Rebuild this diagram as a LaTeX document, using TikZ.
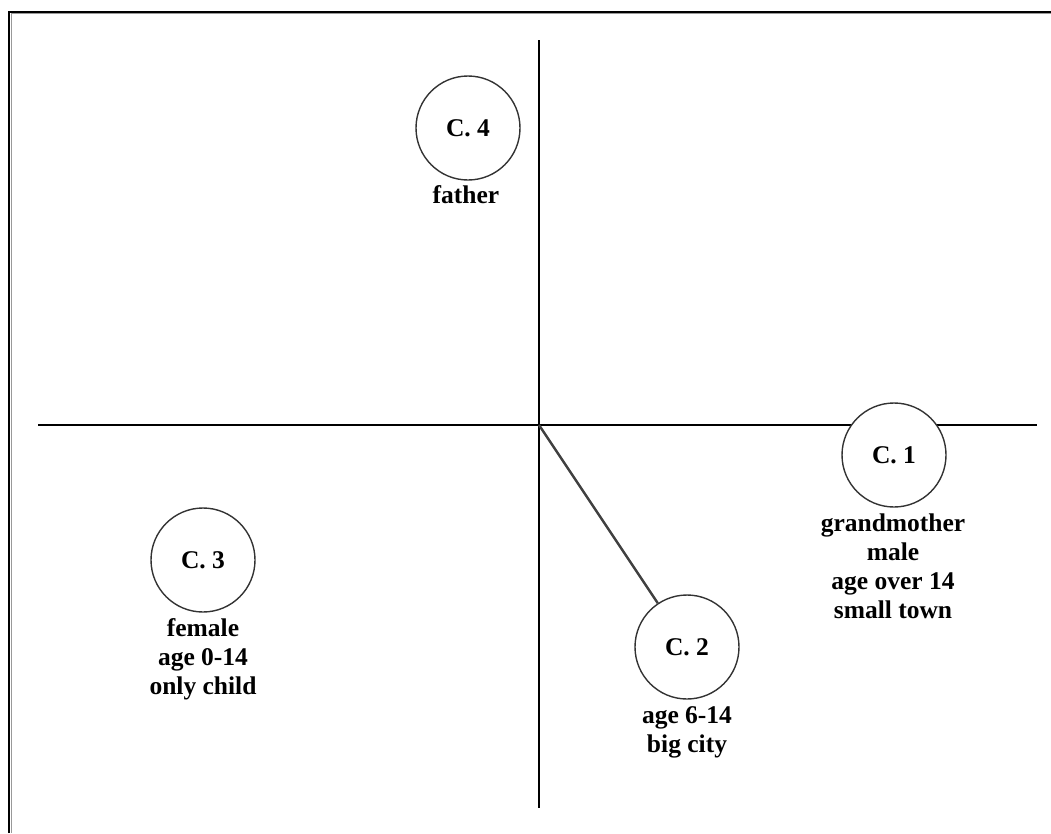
\documentclass[tikz,border=0pt]{standalone}
\usepackage{fontspec}
\setmainfont{Liberation Serif}
\begin{document}
\begin{tikzpicture}[x=1pt,y=-1pt,
  axis/.style={line width=2.6pt,black},
  cl/.style={circle,draw=black!80,line width=1.4pt,fill=white,minimum size=104pt,inner sep=0pt,font=\fontsize{25.5}{29}\selectfont\bfseries},
  lbl/.style={align=center,inner sep=0pt,font=\fontsize{25.5}{29}\selectfont\bfseries}]
\useasboundingbox (0,0) rectangle (1051,833);
% frame
\draw[line width=2pt,black] (9,833) -- (9,11.5) -- (1051,11.5);
\draw[line width=1pt,black!40] (11.5,833) -- (11.5,13.5) -- (1051,13.5);
% axes
\coordinate (xl) at (38,425);
\coordinate (xr) at (1037,425);
\coordinate (yt) at (539,40);
\coordinate (yb) at (539,808);
\coordinate (o) at (539,425);
\draw[axis] (xl) -- (xr);
\draw[axis] (yt) -- (yb);
% circles
\node[cl] (c4) at (468,128) {C. 4};
\node[cl] (c1) at (894,455) {C. 1};
\node[cl] (c2) at (687,647) {C. 2};
\node[cl] (c3) at (203,560) {C. 3};
\draw[line width=2.4pt,black!75] (o) -- (c2);
% labels
\node[lbl] (l4) at (466,195) {father};
\node[lbl] (l1) at (893,566) {grandmother\\male\\age over 14\\small town};
\node[lbl] (l2) at (687,732) {age 6-14\\big city};
\node[lbl] (l3) at (203,659) {female\\age 0-14\\only child};
\end{tikzpicture}
\end{document}
